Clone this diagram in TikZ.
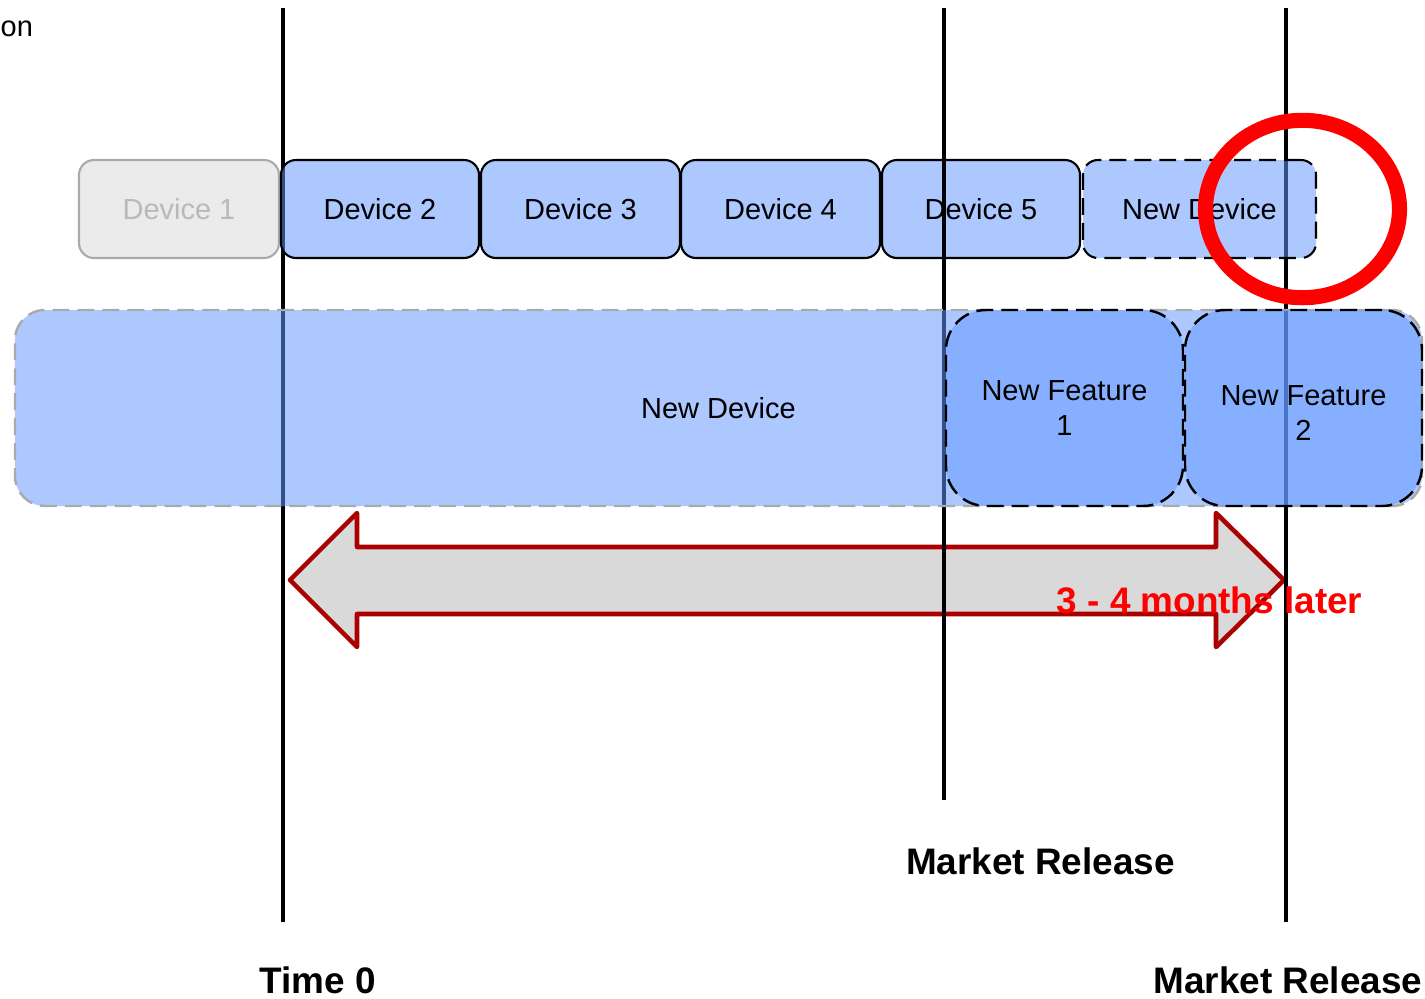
\documentclass[tikz,border=0pt]{standalone}
\usepackage{fontspec}
\setmainfont{Liberation Sans}
\usepackage{tikz}
\usetikzlibrary{arrows.meta}
\definecolor{boxblue}{RGB}{98,151,255}
\definecolor{oldfill}{RGB}{235,235,235}
\definecolor{oldline}{RGB}{170,170,170}
\definecolor{oldtext}{RGB}{185,185,185}
\definecolor{arrowred}{RGB}{170,0,0}
\definecolor{arrowfill}{RGB}{217,217,217}
\tikzset{
    device/.style={draw, line width=0.6pt, rounded corners=0.15cm, fill=boxblue, fill opacity=0.53, text opacity=1,
        minimum width=1.98cm, minimum height=0.98cm, inner sep=0pt, font=\fontsize{8.25}{10}\selectfont}, % 设备方块
    old device/.style={device, draw=oldline, fill=oldfill, fill opacity=1, text=oldtext},
    dash box/.style={dash pattern=on 4.8pt off 2.3pt},
    feature/.style={draw, dash box, line width=0.7pt, rounded corners=0.4cm, fill=boxblue, fill opacity=0.5, text opacity=1,
        minimum width=2.37cm, minimum height=1.96cm, inner sep=0pt, align=center, font=\fontsize{8.25}{9.9}\selectfont},
    timeline/.style={line width=1.15pt},
    mark label/.style={anchor=base, font=\fontsize{10.5}{12}\selectfont\bfseries}
}

\begin{document}
\begin{tikzpicture}

    \useasboundingbox (0,0) rectangle (14.25,-9.98);

    \node[anchor=base west, inner sep=0pt, font=\fontsize{8.25}{10}\selectfont] (cut) at (0,-0.36) {on};

    \node[old device, minimum width=2cm] (dev1) at (1.79,-2.09) {Device 1};

    % 双向箭头
    \draw[arrowred, fill=arrowfill, line width=1.3pt, line join=round]
        (2.90,-5.80) -- (3.57,-5.13) -- (3.57,-5.47) -- (12.16,-5.47) -- (12.16,-5.13)
        -- (12.84,-5.80) -- (12.16,-6.47) -- (12.16,-6.14) -- (3.57,-6.14) -- (3.57,-6.47) -- cycle;

    \coordinate (t0top) at (2.83,-0.08);
    \coordinate (t0bot) at (2.83,-9.22);
    \coordinate (t2top) at (12.86,-0.08);
    \coordinate (t2bot) at (12.86,-9.22);
    \coordinate (t1top) at (9.44,-0.08);
    \coordinate (t1bot) at (9.44,-8.00);

    \draw[timeline] (t0top) -- (t0bot);
    \draw[timeline] (t2top) -- (t2bot);

    \node[device] (dev2) at (3.80,-2.09) {Device 2};
    \node[device, minimum width=1.99cm] (dev3) at (5.805,-2.09) {Device 3};
    \node[device, minimum width=1.99cm] (dev4) at (7.805,-2.09) {Device 4};
    \node[device] (dev5) at (9.81,-2.09) {Device 5};
    \node[device, dash box, minimum width=2.33cm] (newtop) at (11.995,-2.09) {New Device};

    \draw[timeline] (t1top) -- (t1bot);

    \node[draw=oldline, dash box, line width=0.7pt, rounded corners=0.3cm, fill=boxblue, fill opacity=0.53, text opacity=1,
        minimum width=14.07cm, minimum height=1.96cm, inner sep=0pt, font=\fontsize{8.25}{10}\selectfont] (newdev) at (7.185,-4.08) {New Device};
    \node[feature] (feat1) at (10.645,-4.08) {New Feature\\1};
    \node[feature] (feat2) at (13.035,-4.08) {};
    \node[align=center, font=\fontsize{8.25}{9.9}\selectfont] (feat2txt) at ([yshift=-0.05cm]feat2.center) {New Feature\\2};

    \node[mark label] (time0) at (3.175,-9.93) {Time 0};
    \node[mark label] (release1) at (10.405,-8.74) {Market Release};
    \node[mark label] (release2) at (12.88,-9.93) {Market Release};

    \draw[red, line width=4.3pt] (13.025,-2.09) ellipse [x radius=0.97cm, y radius=0.887cm];

    \node[mark label, text=red] (later) at (12.095,-6.13) {3 - 4 months later};

\end{tikzpicture}
\end{document}
